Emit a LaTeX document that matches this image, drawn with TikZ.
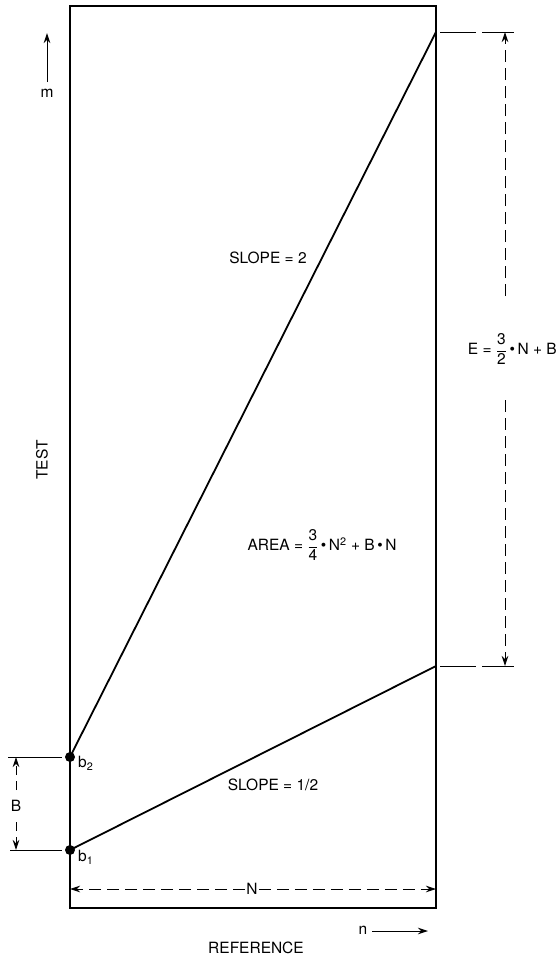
\documentclass[tikz,border=0pt]{standalone}
\usepackage{fontspec}
\setmainfont{TeX Gyre Heros}
\usetikzlibrary{arrows.meta}
\newcommand{\myfrac}[2]{$\displaystyle\frac{\mbox{#1}}{\mbox{#2}}$}
\newcommand{\mydot}{\,\textbullet\,}
\begin{document}
\begin{tikzpicture}[x=1pt,y=-1pt,
  lbl/.style={font=\fontsize{15.5}{17}\selectfont, inner sep=1pt},
  frame/.style={line width=1.2pt},
  slopeline/.style={line width=1.8pt},
  dimline/.style={line width=0.9pt, dash pattern=on 12pt off 6pt},
  tick/.style={line width=0.9pt},
  tip/.style={-{Stealth[length=10pt,width=6.5pt]}},
  dot/.style={circle, fill=black, inner sep=0pt, minimum size=10pt}]
\useasboundingbox (0,0) rectangle (559,958);
% frame
\draw[frame] (70,6) rectangle (436,908);
% points
\node[dot] (b2) at (70,757) {};
\node[dot] (b1) at (70,850) {};
\coordinate (t2) at (436,32);
\coordinate (t1) at (436,666);
\draw[slopeline] (b2.center) -- (t2);
\draw[slopeline] (b1.center) -- (t1);
\node[lbl, anchor=west] (lb2) at (77,763) {b\textsubscript{2}};
\node[lbl, anchor=west] (lb1) at (77,857) {b\textsubscript{1}};
% slope labels
\node[lbl] (s2) at (268,258) {SLOPE = 2};
\node[lbl] (s1) at (273,785) {SLOPE = 1/2};
\node[lbl] (area) at (322,545) {AREA = \myfrac{3}{4}\mydot N\textsuperscript{2} + B\mydot N};
% E dimension
\coordinate (et) at (505,32);
\coordinate (eb) at (505,666);
\draw[tick, dash pattern=on 36pt off 6pt] (440,32) -- (514,32);
\draw[tick, dash pattern=on 36pt off 6pt] (440,666) -- (514,666);
\node[lbl, anchor=east] (E) at (558,349) {E = \myfrac{3}{2}\mydot N + B};
\coordinate (eu) at (505,296);
\coordinate (el) at (505,400);
\draw[dimline, tip] (eu) -- (et);
\draw[dimline, tip] (el) -- (eb);
% B dimension
\draw[tick] (8,757) -- (62,757);
\draw[tick] (10,850) -- (62,850);
\coordinate (Bt) at (16,757);
\coordinate (Bb) at (16,850);
\draw[dimline, dash pattern=on 9pt off 6pt, tip] (16,790) -- (Bt);
\draw[dimline, dash pattern=on 9pt off 6pt, tip] (16,822) -- (Bb);
\node[lbl] (B) at (16,806) {B};
% N dimension
\coordinate (Nl) at (70,889);
\coordinate (Nr) at (436,889);
\node[lbl] (N) at (252,889) {N};
\draw[dimline, tip] (N.west) -- (Nl);
\draw[dimline, tip] (N.east) -- (Nr);
% axes
\coordinate (ma) at (47,82);
\coordinate (mb) at (47,33);
\draw[line width=1pt, tip] (ma) -- (mb);
\node[lbl] (m) at (47,93) {m};
\node[lbl, rotate=90] (test) at (42,460) {TEST};
\node[lbl] (n) at (363,930) {n};
\coordinate (na) at (372,931);
\coordinate (nb) at (428,931);
\draw[line width=1pt, tip] (na) -- (nb);
\node[lbl] (ref) at (256,948) {REFERENCE};
\end{tikzpicture}
\end{document}
